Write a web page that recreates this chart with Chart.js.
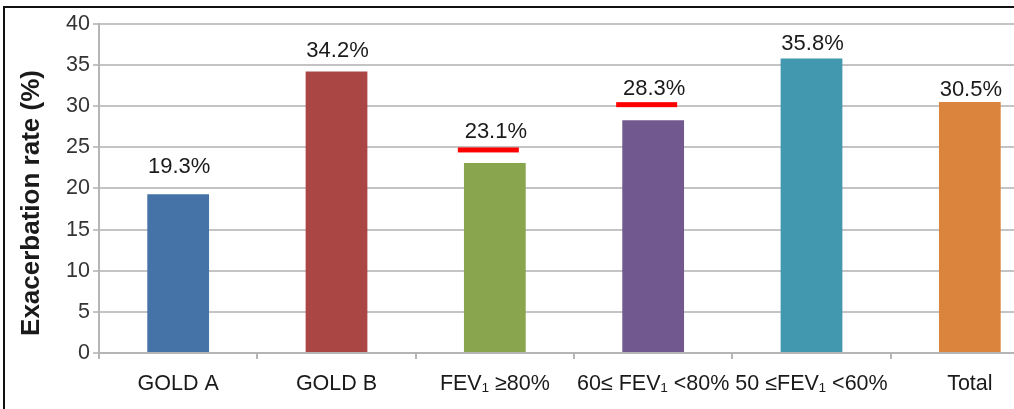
<!DOCTYPE html>
<html>
<head>
<meta charset="utf-8">
<script src="https://cdn.jsdelivr.net/npm/chart.js@4.4.1/dist/chart.umd.min.js"></script>
<style>
  html, body { margin: 0; padding: 0; background: #fff; overflow: hidden; width: 1014px; height: 409px; }
  #frame { position: absolute; left: 3px; top: 6px; border-left: 2px solid #111; border-top: 2px solid #111; }
  canvas { display: block; }
</style>
</head>
<body>
<div id="frame"><canvas id="c" width="1048" height="401"></canvas></div>
<script>
// ---- data ----
const categories = ['GOLD A', 'GOLD B', 'FEV\u2081 \u226580%', '60\u2264 FEV\u2081 <80%', '50 \u2264FEV\u2081 <60%', 'Total'];
const exacerbationRate = [19.3, 34.2, 23.1, 28.3, 35.8, 30.5];
const yTicks = [0, 5, 10, 15, 20, 25, 30, 35, 40];
const underlinedCategories = ['FEV\u2081 \u226580%', '60\u2264 FEV\u2081 <80%'];

// ---- styles ----
const barColors = ['#4572A7', '#AA4643', '#89A54E', '#71588F', '#4198AF', '#DB843D'];
const labelOffsets = [27.5, 20.5, 31, 31, 15, 12.5];
const underlineStyle = { dy: [18, 15.5], left: 37, right: 24, thickness: 5, color: '#ff0000' };
const FONT = "'Liberation Sans', Arial, sans-serif";

const labelPlugin = {
  id: 'valueLabels',
  afterDatasetsDraw(chart) {
    const ctx = chart.ctx;
    const meta = chart.getDatasetMeta(0);
    ctx.save();
    ctx.font = '22px ' + FONT;
    ctx.fillStyle = '#1a1a1a';
    ctx.textAlign = 'center';
    ctx.textBaseline = 'middle';
    let u = 0;
    meta.data.forEach((bar, i) => {
      const v = exacerbationRate[i];
      const ly = bar.y - labelOffsets[i];
      ctx.fillText(v.toFixed(1) + '%', bar.x + 1, ly);
      if (underlinedCategories.includes(categories[i])) {
        ctx.fillStyle = underlineStyle.color;
        const y = ly + underlineStyle.dy[u++];
        ctx.fillRect(bar.x - underlineStyle.left, y - underlineStyle.thickness / 2,
                     underlineStyle.left + underlineStyle.right, underlineStyle.thickness);
        ctx.fillStyle = '#1a1a1a';
      }
    });
    ctx.restore();
  }
};

const yTitlePlugin = {
  id: 'yTitle',
  afterDraw(chart) {
    const ctx = chart.ctx;
    ctx.save();
    ctx.translate(27, 195);
    ctx.rotate(-Math.PI / 2);
    ctx.font = 'bold 26px ' + FONT;
    ctx.fillStyle = '#1a1a1a';
    ctx.textAlign = 'center';
    ctx.textBaseline = 'middle';
    ctx.fillText('Exacerbation rate (%)', 0, 0);
    ctx.restore();
  }
};

new Chart(document.getElementById('c'), {
  type: 'bar',
  data: {
    labels: categories,
    datasets: [{
      data: exacerbationRate,
      backgroundColor: barColors,
      borderWidth: 0,
      barPercentage: 0.39,
      categoryPercentage: 1.0
    }]
  },
  options: {
    responsive: false,
    animation: false,
    devicePixelRatio: 1,
    layout: { padding: { left: 0, right: 4, top: 14, bottom: 0 } },
    plugins: { legend: { display: false }, tooltip: { enabled: false } },
    scales: {
      x: {
        grid: { offset: true, drawOnChartArea: false, drawTicks: true, tickLength: 6, color: '#b5b5b5', lineWidth: 2 },
        border: { color: '#b5b5b5', width: 2 },
        ticks: { color: '#1a1a1a', font: { family: FONT, size: 21.5 }, maxRotation: 0, autoSkip: false, padding: 12 },
        afterFit(s) { s.height = 56; }
      },
      y: {
        min: 0, max: 40,
        afterBuildTicks(s) { s.ticks = yTicks.map(v => ({ value: v })); },
        grid: { color: '#c4c4c4', lineWidth: 2, tickLength: 6, drawTicks: true },
        border: { color: '#b5b5b5', width: 2 },
        ticks: { color: '#333', font: { family: FONT, size: 21.5 }, padding: 3 },
        afterFit(s) { s.width = 94; }
      }
    }
  },
  plugins: [labelPlugin, yTitlePlugin]
});
</script>
</body>
</html>
